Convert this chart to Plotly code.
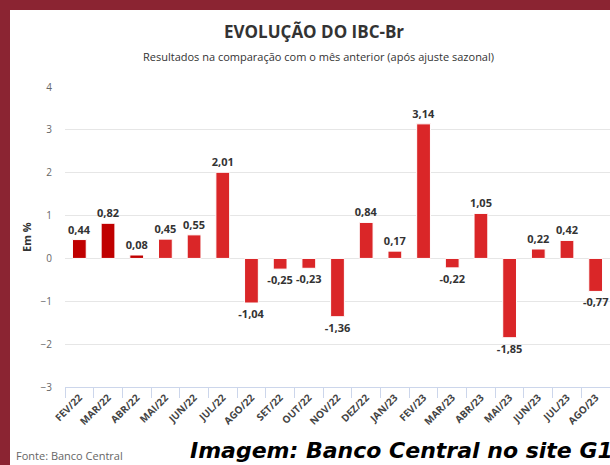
import plotly.graph_objects as go

categories = ["FEV/22", "MAR/22", "ABR/22", "MAI/22", "JUN/22", "JUL/22", "AGO/22", "SET/22",
              "OUT/22", "NOV/22", "DEZ/22", "JAN/23", "FEV/23", "MAR/23", "ABR/23", "MAI/23",
              "JUN/23", "JUL/23", "AGO/23"]
values = [0.44, 0.82, 0.08, 0.45, 0.55, 2.01, -1.04, -0.25, -0.23, -1.36, 0.84, 0.17, 3.14,
          -0.22, 1.05, -1.85, 0.22, 0.42, -0.77]
dark_count = 3
y_ticks = [-3, -2, -1, 0, 1, 2, 3, 4]

colors = ["#C00000" if i < dark_count else "#DA2628" for i in range(len(values))]

W, H = 610, 465
L, R, T, B = 65, 0, 87, 78
pw, ph = W - L - R, H - T - B

def px(x):
    return (x - L) / pw

def py(y):
    return (H - B - y) / ph

fig = go.Figure(go.Bar(
    x=categories, y=values,
    marker=dict(color=colors, line=dict(color="#ffffff", width=1)),
    width=0.48,
    texttemplate="%{y:.2f}",
    textposition="outside",
    constraintext="none",
    cliponaxis=False,
    textfont=dict(family="Open Sans", size=11, color="#333333", weight="bold"),
    hoverinfo="skip",
))

fig.update_layout(
    width=W, height=H,
    margin=dict(l=L, r=R, t=T, b=B, pad=0),
    paper_bgcolor="#ffffff", plot_bgcolor="#ffffff",
    separators=",.",
    showlegend=False,
    bargap=0.52,
    xaxis=dict(
        type="category", range=[-0.5, len(categories) - 0.5],
        tickson="boundaries", ticks="outside", ticklen=10, tickcolor="#ccd6eb",
        showline=True, linecolor="#ccd6eb", linewidth=1,
        showgrid=False, tickangle=-45,
        tickfont=dict(family="Open Sans", size=10, color="#444444", weight="bold"),
    ),
    yaxis=dict(
        range=[-3, 4], tickvals=y_ticks, showgrid=True, gridcolor="#e6e6e6", gridwidth=1,
        zeroline=False, showline=False, ticks="", ticklabelstandoff=12,
        tickfont=dict(family="Open Sans", size=10, color="#666666"),
    ),
    font=dict(family="Open Sans"),
)

# frame border
fig.add_shape(type="rect", xref="paper", yref="paper", x0=px(0), x1=px(10), y0=py(H), y1=py(0),
              fillcolor="#8B2432", line=dict(width=0), layer="above")
fig.add_shape(type="rect", xref="paper", yref="paper", x0=px(0), x1=px(W), y0=py(10), y1=py(0),
              fillcolor="#8B2432", line=dict(width=0), layer="above")

fig.add_annotation(text="<b>EVOLUÇÃO DO IBC-Br</b>", xref="paper", yref="paper",
                   x=px(314), y=py(32), showarrow=False, xanchor="center", yanchor="middle",
                   font=dict(family="Open Sans", size=17, color="#333333"))
fig.add_annotation(text="Resultados na comparação com o mês anterior (após ajuste sazonal)",
                   xref="paper", yref="paper", x=px(318), y=py(57), showarrow=False,
                   xanchor="center", yanchor="middle",
                   font=dict(family="Open Sans", size=11, color="#333333"))
fig.add_annotation(text="<b>Em %</b>", xref="paper", yref="paper", x=px(26), y=py(237),
                   showarrow=False, textangle=-90, xanchor="center", yanchor="middle",
                   font=dict(family="Open Sans", size=11, color="#333333"))
fig.add_annotation(text="Fonte: Banco Central", xref="paper", yref="paper", x=px(14), y=py(455),
                   showarrow=False, xanchor="left", yanchor="middle",
                   font=dict(family="Open Sans", size=11, color="#666666"))
fig.add_annotation(text="<b><i>Imagem: Banco Central no site G1</i></b>", xref="paper", yref="paper",
                   x=px(188), y=py(450), showarrow=False, xanchor="left", yanchor="middle",
                   font=dict(family="DejaVu Sans", size=22, color="#000000"))

fig.write_html(
    "out.html",
    config={"displayModeBar": False},
    post_script="document.body.style.margin='0';document.body.style.overflow='hidden';",
)
